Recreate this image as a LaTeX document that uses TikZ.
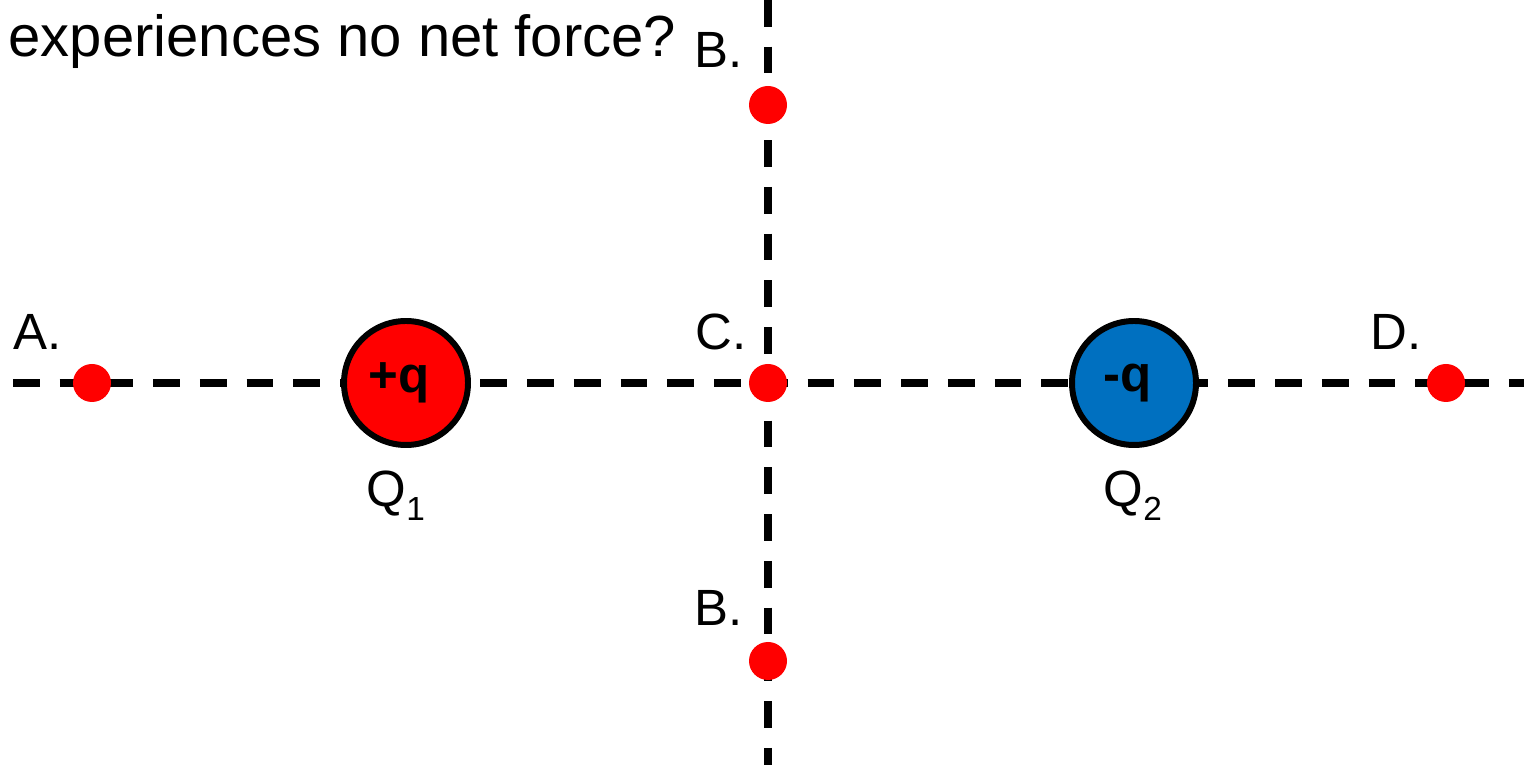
\documentclass[tikz,border=0pt]{standalone}
\usepackage{fontspec}
\setmainfont{Liberation Sans}
\usetikzlibrary{positioning}
\definecolor{chargeblue}{RGB}{0,112,192}
\newcommand{\subidx}[1]{\raisebox{-0.14cm}{\fontsize{9.5}{11}\selectfont #1}}

\begin{document}
\begin{tikzpicture}[x=1cm,y=1cm,
 charge/.style={draw=black,circle,line width=1.7pt,minimum size=1.24cm,inner sep=0pt,font=\fontsize{14.5}{17}\selectfont\bfseries},
 testpt/.style={fill=red,circle,minimum size=0.38cm,inner sep=0pt},
 axisline/.style={black,line width=2pt,dash pattern=on 7.6pt off 5.7pt},
 every node/.style={font=\fontsize{14.5}{17}\selectfont},
 ptlabel/.style={anchor=base west,inner sep=0pt}]
\useasboundingbox (0,0) rectangle (15.24,7.65);
\coordinate (hleft) at (0.13,3.82);
\coordinate (hright) at (15.24,3.82);
\coordinate (vtop) at (7.68,7.65);
\coordinate (vbottom) at (7.68,0);
\draw[axisline] (hleft) -- (hright);
\draw[axisline] (vtop) -- (vbottom);
\node[charge,fill=red] (q1) at (4.06,3.82) {+q\kern0.14cm};
\node[charge,fill=chargeblue] (q2) at (11.34,3.82) {-q\kern0.12cm};
\node[testpt] (ptA) at (0.92,3.82) {};
\node[testpt] (ptC) at (7.68,3.82) {};
\node[testpt] (ptD) at (14.46,3.82) {};
\node[testpt] (ptBtop) at (7.68,6.60) {};
\node[testpt] (ptBbot) at (7.68,1.04) {};
\node[ptlabel] (labA) at (0.13,4.15) {A.};
\node[ptlabel] (labC) at (6.95,4.15) {C.};
\node[ptlabel] (labD) at (13.70,4.15) {D.};
\node[ptlabel] (labBtop) at (6.94,6.97) {B.};
\node[ptlabel] (labBbot) at (6.94,1.39) {B.};
\node[ptlabel] (nameq1) at (3.66,2.58) {Q\subidx{1}};
\node[ptlabel] (nameq2) at (11.03,2.58) {Q\subidx{2}};
\node[ptlabel,font=\fontsize{16.5}{19}\selectfont] (question) at (0.08,7.08) {experiences no net force?};
\end{tikzpicture}
\end{document}
